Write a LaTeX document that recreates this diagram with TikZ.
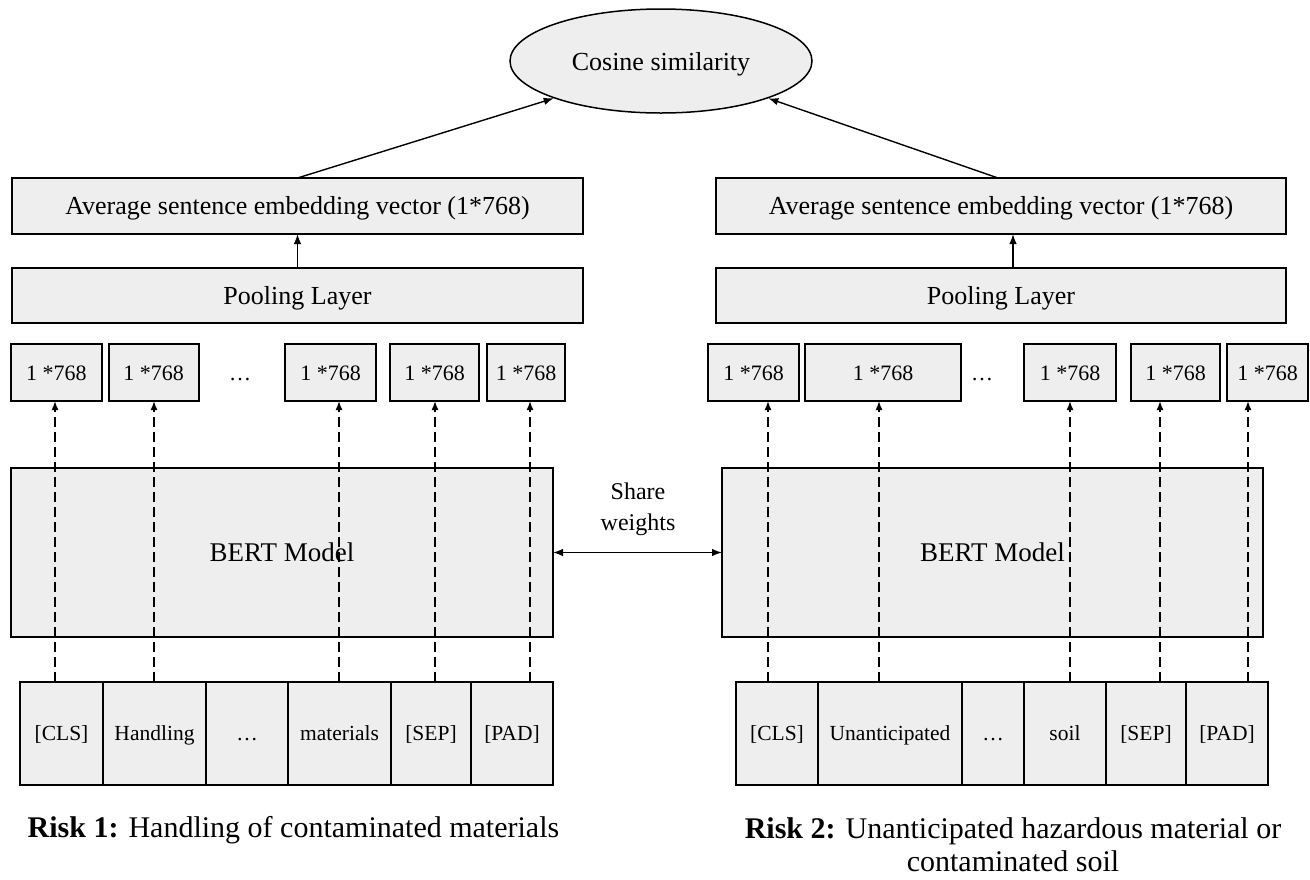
\documentclass[tikz,border=0pt]{standalone}
\usepackage{fontspec}
\setmainfont{Liberation Serif}
\usetikzlibrary{shapes.geometric,arrows.meta}
\definecolor{boxgray}{HTML}{EEEEEE}
\begin{document}
\begin{tikzpicture}[x=1pt,y=-1pt,
  box/.style={draw, fill=boxgray, line width=2pt, inner sep=0pt, outer sep=0pt, rectangle},
  bigtxt/.style={font=\fontsize{26}{30}\selectfont, text height=17.5pt, text depth=0pt},
  vectxt/.style={font=\fontsize{22}{26}\selectfont, text height=15pt, text depth=0pt},
  toktxt/.style={font=\fontsize{21.5}{26}\selectfont, text height=14.5pt, text depth=0pt},
  berttxt/.style={font=\fontsize{27}{32}\selectfont, text height=18.5pt, text depth=0pt},
  arr/.style={line width=1.4pt, -{Latex[length=10pt,width=7.5pt]}},
  dasharr/.style={line width=1.6pt, dash pattern=on 10pt off 5pt, -{Latex[length=9pt,width=7pt]}},
  dblarr/.style={line width=1.4pt, {Latex[length=10pt,width=7.5pt]}-{Latex[length=10pt,width=7.5pt]}}
]
\useasboundingbox (0,0) rectangle (1310,879);

% ellipse
\node[ellipse, draw, fill=boxgray, line width=1.5pt, minimum width=302, minimum height=104, inner sep=0pt, font=\fontsize{26}{30}\selectfont, text height=19pt, text depth=0pt] (cos) at (661,61) {Cosine similarity};

% average boxes
\node[box, minimum width=571, minimum height=56, bigtxt] (avgL) at (297.5,206) {Average sentence embedding vector (1*768)};
\node[box, minimum width=570, minimum height=56, bigtxt] (avgR) at (1001,206) {Average sentence embedding vector (1*768)};

% pooling
\node[box, minimum width=571, minimum height=55, bigtxt] (poolL) at (297.5,295.5) {Pooling Layer};
\node[box, minimum width=570, minimum height=55, bigtxt] (poolR) at (1001,295.5) {Pooling Layer};

% vector boxes left
\node[box, minimum width=91, minimum height=57, vectxt] (vL1) at (56.5,372.5) {1 *768};
\node[box, minimum width=90, minimum height=57, vectxt] (vL2) at (153.5,372.5) {1 *768};
\node[vectxt] (dotsL) at (240,372.5) {…};
\node[box, minimum width=91, minimum height=57, vectxt] (vL3) at (330.5,372.5) {1 *768};
\node[box, minimum width=89, minimum height=57, vectxt] (vL4) at (434.5,372.5) {1 *768};
\node[box, minimum width=78, minimum height=57, vectxt] (vL5) at (526,372.5) {1 *768};

% vector boxes right
\node[box, minimum width=91, minimum height=57, vectxt] (vR1) at (753.5,372.5) {1 *768};
\node[box, minimum width=156, minimum height=57, vectxt] (vR2) at (883,372.5) {1 *768};
\node[vectxt] (dotsR) at (982,372.5) {…};
\node[box, minimum width=92, minimum height=57, vectxt] (vR3) at (1070,372.5) {1 *768};
\node[box, minimum width=89, minimum height=57, vectxt] (vR4) at (1175.5,372.5) {1 *768};
\node[box, minimum width=81, minimum height=57, vectxt] (vR5) at (1267.5,372.5) {1 *768};

% BERT
\node[box, minimum width=542, minimum height=169, berttxt] (bertL) at (282,552.5) {BERT Model};
\node[box, minimum width=541, minimum height=169, berttxt] (bertR) at (992.5,552.5) {BERT Model};

% token rows left
\node[box, minimum width=83, minimum height=103, toktxt] (tL1) at (61.5,733.5) {[CLS]};
\node[box, minimum width=103, minimum height=103, toktxt] (tL2) at (154.5,733.5) {Handling};
\node[box, minimum width=82, minimum height=103, toktxt] (tL3) at (247,733.5) {…};
\node[box, minimum width=103, minimum height=103, toktxt] (tL4) at (339.5,733.5) {materials};
\node[box, minimum width=80, minimum height=103, toktxt] (tL5) at (431,733.5) {[SEP]};
\node[box, minimum width=82, minimum height=103, toktxt] (tL6) at (512,733.5) {[PAD]};

% token rows right
\node[box, minimum width=82, minimum height=103, toktxt] (tR1) at (777,733.5) {[CLS]};
\node[box, minimum width=144, minimum height=103, toktxt] (tR2) at (890,733.5) {Unanticipated};
\node[box, minimum width=62, minimum height=103, toktxt] (tR3) at (993,733.5) {…};
\node[box, minimum width=82, minimum height=103, toktxt] (tR4) at (1065,733.5) {soil};
\node[box, minimum width=80, minimum height=103, toktxt] (tR5) at (1146,733.5) {[SEP]};
\node[box, minimum width=82, minimum height=103, toktxt] (tR6) at (1227,733.5) {[PAD]};

% x positions for dashed connectors
\coordinate (xL1) at (55,0);
\coordinate (xL2) at (154,0);
\coordinate (xL3) at (339,0);
\coordinate (xL4) at (435,0);
\coordinate (xL5) at (530,0);
\coordinate (xR1) at (768,0);
\coordinate (xR2) at (879,0);
\coordinate (xR3) at (1070,0);
\coordinate (xR4) at (1160,0);
\coordinate (xR5) at (1248,0);
\coordinate (xPR) at (1013,0);
\coordinate (xAR) at (998,0);

\draw[dasharr] (tL1.north -| xL1) -- (vL1.south -| xL1);
\draw[dasharr] (tL2.north -| xL2) -- (vL2.south -| xL2);
\draw[dasharr] (tL4.north -| xL3) -- (vL3.south -| xL3);
\draw[dasharr] (tL5.north -| xL4) -- (vL4.south -| xL4);
\draw[dasharr] (tL6.north -| xL5) -- (vL5.south -| xL5);
\draw[dasharr] (tR1.north -| xR1) -- (vR1.south -| xR1);
\draw[dasharr] (tR2.north -| xR2) -- (vR2.south -| xR2);
\draw[dasharr] (tR4.north -| xR3) -- (vR3.south -| xR3);
\draw[dasharr] (tR5.north -| xR4) -- (vR4.south -| xR4);
\draw[dasharr] (tR6.north -| xR5) -- (vR5.south -| xR5);

% pooling -> average
\draw[arr] (poolL.north) -- (avgL.south);
\draw[arr] (poolR.north -| xPR) -- (avgR.south -| xPR);

% average -> cosine
\draw[arr] (avgL.north) -- (cos.south west);
\draw[arr] (avgR.north -| xAR) -- (cos.south east);

% share weights
\draw[dblarr] (bertL.east) -- (bertR.west);
\node[font=\fontsize{24}{31}\selectfont, align=center] (share) at (638,509) {Share\\weights};

% captions
\node[font=\fontsize{30}{33}\selectfont] (cap1) at (293.5,830) {\textbf{Risk 1:} Handling of contaminated materials};
\node[font=\fontsize{30}{33}\selectfont, align=center] (cap2) at (1013,845) {\textbf{Risk 2:} Unanticipated hazardous material or\\contaminated soil};
\end{tikzpicture}
\end{document}
